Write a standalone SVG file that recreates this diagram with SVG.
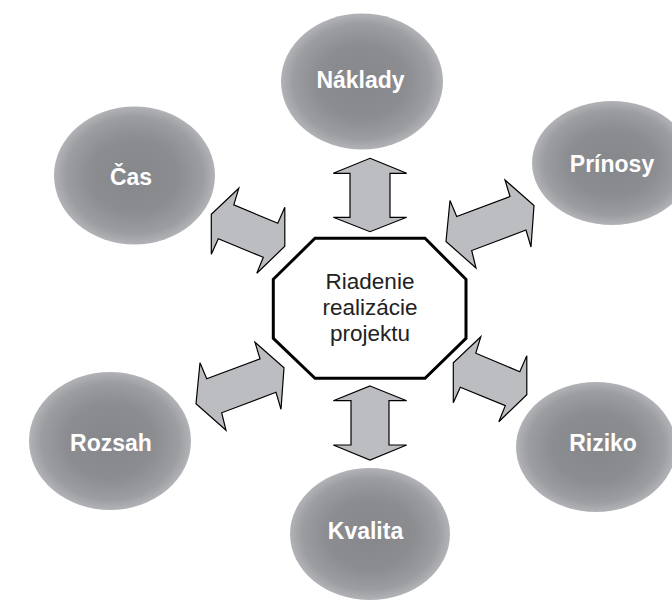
<svg xmlns="http://www.w3.org/2000/svg" width="672" height="601" viewBox="0 0 672 601">
<defs>
<radialGradient id="g" cx="50%" cy="50%" r="50%">
<stop offset="0" stop-color="#86878b"/>
<stop offset="0.55" stop-color="#8c8d91"/>
<stop offset="0.85" stop-color="#9c9da1"/>
<stop offset="1" stop-color="#b2b3b7"/>
</radialGradient>
<polygon id="s1" points="27.5,0 0,26 0,66 7,50.5 52,69 45.5,85 73.5,58 73.5,19 66.5,35 22.5,16.5"/>
<polygon id="s2" points="59,0 88,25.5 85,67 80,50 25.7,70.5 30,88 0,61.5 4,20.5 10.7,36.5 64,16.5"/>
</defs>
<style>
.n ellipse{fill:url(#g)}
.n text{font-family:"Liberation Sans",Arial,sans-serif;font-weight:bold;font-size:23px;fill:#fff;text-anchor:middle}
.c use,.c polygon{fill:#bcbdc1;stroke:#000;stroke-width:1.2;stroke-linejoin:miter}
.ctr polygon{fill:#fff;stroke:#000;stroke-width:3}
.ctr text{font-family:"Liberation Sans",Arial,sans-serif;font-size:22.5px;fill:#222;text-anchor:middle}
</style>
<rect width="672" height="601" fill="#fff"/>
<g id="connectors" class="c">
<polygon points="370,158.3 406.7,173.3 390,173.3 390,217.3 406.7,217.3 370,231.7 333.3,217.3 350,217.3 350,173.3 333.3,173.3"/>
<polygon points="370,386 406.7,400.7 389,400.7 389,445 406.7,445 370,460 333.3,445 351,445 351,400.7 333.3,400.7"/>
<use href="#s1" transform="translate(211.3,188.3)"/>
<use href="#s1" transform="translate(453.3,336.7)"/>
<use href="#s2" transform="translate(446,180)"/>
<use href="#s2" transform="translate(196,342.3)"/>
</g>
<g id="center" class="ctr">
<polygon points="315,238.3 425,238.3 466,279.3 466,338.3 425,378.3 315,378.3 273.3,338.3 273.3,279.3"/>
<text x="370" y="288.5">Riadenie</text>
<text x="370" y="314.5">realizácie</text>
<text x="370" y="340.5">projektu</text>
</g>
<g id="naklady" class="n">
<ellipse cx="362" cy="81.5" rx="81" ry="68"/>
<text x="360.5" y="88">Náklady</text>
</g>
<g id="cas" class="n">
<ellipse cx="134.5" cy="175.5" rx="80.5" ry="69"/>
<text x="131" y="185">Čas</text>
</g>
<g id="prinosy" class="n">
<ellipse cx="612" cy="163" rx="80" ry="62"/>
<text x="612" y="172">Prínosy</text>
</g>
<g id="rozsah" class="n">
<ellipse cx="110" cy="441" rx="81" ry="69"/>
<text x="111" y="451">Rozsah</text>
</g>
<g id="riziko" class="n">
<ellipse cx="596" cy="447" rx="80" ry="65"/>
<text x="603" y="451">Riziko</text>
</g>
<g id="kvalita" class="n">
<ellipse cx="370" cy="534" rx="80" ry="66"/>
<text x="365.5" y="539">Kvalita</text>
</g>
</svg>
